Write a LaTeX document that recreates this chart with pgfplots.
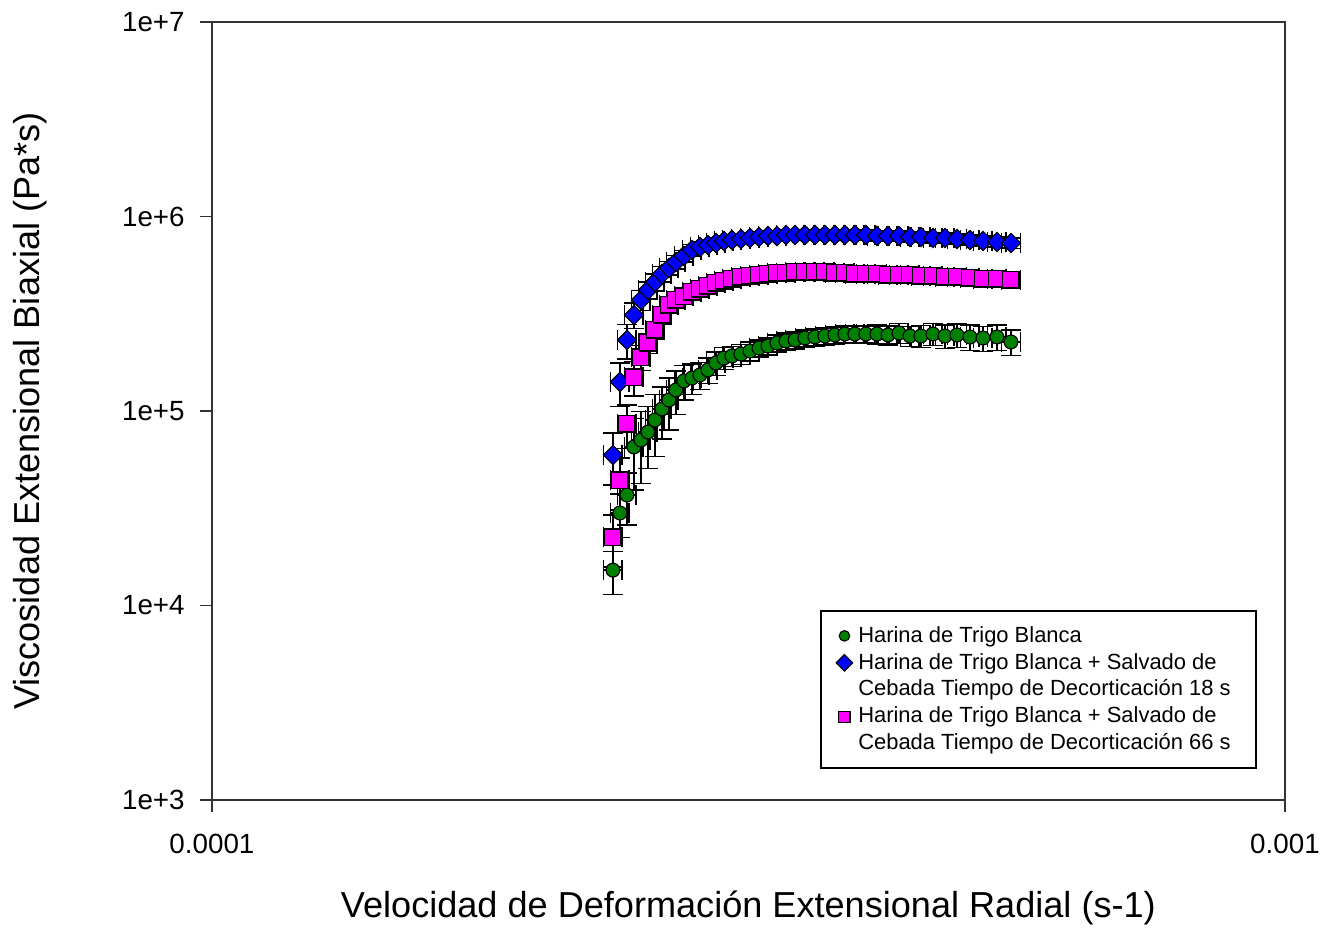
\documentclass[border=0pt]{standalone}
\usepackage{fontspec}
\setmainfont{Liberation Sans}
\usepackage{pgfplots}
\usepackage{pgfplotstable}
\pgfplotsset{compat=1.18}
\definecolor{mgreen}{RGB}{0,128,0}
\definecolor{mblue}{RGB}{0,0,255}
\definecolor{mpink}{RGB}{255,0,255}

\pgfplotstableread{
x y ex ey
2.3644e-4 1.52e4 0.02 0.25
2.4001e-4 2.99e4 0.02 0.25
2.4365e-4 3.70e4 0.02 0.30
2.4733e-4 6.53e4 0.02 0.40
2.5108e-4 7.09e4 0.02 0.40
2.5488e-4 7.80e4 0.02 0.35
2.5874e-4 8.99e4 0.02 0.35
2.6266e-4 1.024e5 0.02 0.30
2.6663e-4 1.139e5 0.02 0.30
2.7067e-4 1.282e5 0.02 0.25
2.7536e-4 1.427e5 0.02 0.20
2.8013e-4 1.478e5 0.02 0.18
2.8497e-4 1.532e5 0.02 0.16
2.8990e-4 1.625e5 0.02 0.15
2.9493e-4 1.766e5 0.02 0.14
3.0003e-4 1.873e5 0.02 0.13
3.0522e-4 1.918e5 0.02 0.12
3.1119e-4 1.964e5 0.02 0.12
3.1725e-4 2.035e5 0.02 0.11
3.2344e-4 2.108e5 0.02 0.10
3.2975e-4 2.159e5 0.02 0.10
3.3617e-4 2.237e5 0.02 0.10
3.4273e-4 2.291e5 0.02 0.10
3.4943e-4 2.317e5 0.02 0.10
3.5699e-4 2.373e5 0.02 0.10
3.6473e-4 2.402e5 0.02 0.10
3.7265e-4 2.430e5 0.02 0.10
3.8073e-4 2.459e5 0.02 0.10
3.8899e-4 2.488e5 0.02 0.10
3.9743e-4 2.488e5 0.02 0.10
4.0692e-4 2.488e5 0.02 0.10
4.1665e-4 2.488e5 0.02 0.11
4.2659e-4 2.459e5 0.02 0.11
4.3679e-4 2.518e5 0.02 0.12
4.4721e-4 2.430e5 0.02 0.12
4.5788e-4 2.430e5 0.02 0.13
4.6983e-4 2.488e5 0.02 0.13
4.8209e-4 2.430e5 0.02 0.14
4.9468e-4 2.459e5 0.02 0.14
5.0867e-4 2.402e5 0.02 0.15
5.2307e-4 2.373e5 0.02 0.15
5.3900e-4 2.402e5 0.02 0.15
5.5547e-4 2.264e5 0.02 0.15
}\green

\pgfplotstableread{
x y ex ey
2.3644e-4 5.94e4 0.02 0.30
2.4001e-4 1.410e5 0.02 0.25
2.4365e-4 2.317e5 0.02 0.20
2.4733e-4 3.116e5 0.02 0.15
2.5108e-4 3.722e5 0.02 0.12
2.5488e-4 4.190e5 0.02 0.10
2.5874e-4 4.605e5 0.02 0.10
2.6266e-4 5.063e5 0.02 0.09
2.6663e-4 5.436e5 0.02 0.08
2.7067e-4 5.836e5 0.02 0.08
2.7536e-4 6.267e5 0.02 0.07
2.8013e-4 6.727e5 0.02 0.07
2.8497e-4 6.970e5 0.02 0.06
2.8990e-4 7.137e5 0.02 0.06
2.9493e-4 7.308e5 0.02 0.06
3.0003e-4 7.482e5 0.02 0.06
3.0522e-4 7.572e5 0.02 0.06
3.1119e-4 7.661e5 0.02 0.06
3.1725e-4 7.754e5 0.02 0.06
3.2344e-4 7.845e5 0.02 0.06
3.2975e-4 7.938e5 0.02 0.06
3.3617e-4 7.938e5 0.02 0.06
3.4273e-4 8.034e5 0.02 0.06
3.4943e-4 8.034e5 0.02 0.06
3.5699e-4 8.034e5 0.02 0.06
3.6473e-4 8.034e5 0.02 0.06
3.7265e-4 8.034e5 0.02 0.06
3.8073e-4 8.034e5 0.02 0.06
3.8899e-4 8.034e5 0.02 0.06
3.9743e-4 8.034e5 0.02 0.06
4.0692e-4 8.034e5 0.02 0.06
4.1665e-4 7.938e5 0.02 0.06
4.2659e-4 7.938e5 0.02 0.06
4.3679e-4 7.938e5 0.02 0.06
4.4721e-4 7.845e5 0.02 0.06
4.5788e-4 7.845e5 0.02 0.06
4.6983e-4 7.754e5 0.02 0.06
4.8209e-4 7.754e5 0.02 0.06
4.9468e-4 7.661e5 0.02 0.06
5.0867e-4 7.572e5 0.02 0.06
5.2307e-4 7.482e5 0.02 0.06
5.3900e-4 7.394e5 0.02 0.06
5.5547e-4 7.308e5 0.02 0.06
}\blue

\pgfplotstableread{
x y ex ey
2.3644e-4 2.250e4 0.02 0.30
2.4001e-4 4.418e4 0.02 0.30
2.4365e-4 8.575e4 0.02 0.25
2.4733e-4 1.495e5 0.02 0.20
2.5108e-4 1.895e5 0.02 0.15
2.5488e-4 2.237e5 0.02 0.12
2.5874e-4 2.609e5 0.02 0.10
2.6266e-4 3.116e5 0.02 0.10
2.6663e-4 3.508e5 0.02 0.09
2.7067e-4 3.722e5 0.02 0.08
2.7536e-4 3.902e5 0.02 0.08
2.8013e-4 4.091e5 0.02 0.07
2.8497e-4 4.239e5 0.02 0.07
2.8990e-4 4.392e5 0.02 0.06
2.9493e-4 4.551e5 0.02 0.06
3.0003e-4 4.661e5 0.02 0.06
3.0522e-4 4.773e5 0.02 0.06
3.1119e-4 4.886e5 0.02 0.06
3.1725e-4 4.945e5 0.02 0.06
3.2344e-4 5.004e5 0.02 0.06
3.2975e-4 5.063e5 0.02 0.06
3.3617e-4 5.123e5 0.02 0.06
3.4273e-4 5.123e5 0.02 0.06
3.4943e-4 5.184e5 0.02 0.06
3.5699e-4 5.184e5 0.02 0.06
3.6473e-4 5.184e5 0.02 0.06
3.7265e-4 5.184e5 0.02 0.06
3.8073e-4 5.123e5 0.02 0.06
3.8899e-4 5.123e5 0.02 0.06
3.9743e-4 5.063e5 0.02 0.06
4.0692e-4 5.063e5 0.02 0.06
4.1665e-4 5.063e5 0.02 0.06
4.2659e-4 5.004e5 0.02 0.06
4.3679e-4 5.004e5 0.02 0.06
4.4721e-4 5.004e5 0.02 0.06
4.5788e-4 4.945e5 0.02 0.06
4.6983e-4 4.945e5 0.02 0.06
4.8209e-4 4.886e5 0.02 0.06
4.9468e-4 4.886e5 0.02 0.06
5.0867e-4 4.829e5 0.02 0.06
5.2307e-4 4.773e5 0.02 0.06
5.3900e-4 4.773e5 0.02 0.06
5.5547e-4 4.716e5 0.02 0.06
}\pink

\pgfplotsset{
  myerr/.style={
    error bars/.cd,
      x dir=both, x explicit relative,
      y dir=both, y explicit relative,
      error bar style={black, line width=0.5pt},
      error mark options={rotate=90, mark size=3.6pt, black, line width=0.5pt},
  },
}

\begin{document}
\begin{tikzpicture}
\begin{axis}[
  name=ax,
  scale only axis,
  width=386.3pt, height=280.1pt,
  xmode=log, ymode=log,
  xmin=1e-4, xmax=1e-3, ymin=1e3, ymax=1e7,
  xtick={1e-4,1e-3}, xticklabels={0.0001,0.001},
  ytick={1e3,1e4,1e5,1e6,1e7},
  yticklabels={1e+3,1e+4,1e+5,1e+6,1e+7},
  minor tick length=0pt,
  xtick pos=bottom, ytick pos=left,
  tick align=outside,
  major tick length=4.3pt,
  tick style={black!80, line width=0.55pt},
  axis line style={black!80, line width=0.55pt},
  ticklabel style={font=\fontsize{10}{12}\selectfont},
  yticklabel style={xshift=-2pt},
  xticklabel style={yshift=-4.5pt},
  xlabel={Velocidad de Deformación Extensional Radial (s-1)},
  ylabel={Viscosidad Extensional Biaxial (Pa*s)},
  label style={font=\fontsize{13}{15.6}\selectfont},
  xlabel style={at={(axis description cs:0.5,-0.1388)}, anchor=center},
  ylabel style={at={(axis description cs:-0.1696,0.5)}, anchor=center},
  clip=false,
  legend cell align=left,
  legend style={
    at={(axis description cs:0.5666,0.0398)}, anchor=south west,
    draw=black, line width=0.6pt,
    font=\fontsize{7.9}{9.7}\selectfont,
    inner xsep=0pt, inner ysep=4pt,
    row sep=0pt,
    nodes={inner ysep=0.6pt, text height=6.5pt, text depth=2pt},
  },
]
\addplot+[only marks, mark=*, mark size=2.5pt,
  mark options={fill=mgreen, draw=black, line width=0.4pt},
  legend image post style={mark size=1.9pt}, myerr]
  table[x=x, y=y, x error=ex, y error=ey] {\green};
\addlegendentry{Harina de Trigo Blanca}
\addplot+[only marks, mark=square*, mark size=2.45pt,
  mark options={fill=mblue, draw=black, line width=0.4pt, rotate=45},
  legend image post style={mark size=2.1pt}, myerr]
  table[x=x, y=y, x error=ex, y error=ey] {\blue};
\addlegendentry{Harina de Trigo Blanca + Salvado de}
\addlegendimage{empty legend}
\addlegendentry{Cebada Tiempo de Decorticación 18 s}
\addplot+[only marks, mark=square*, mark size=2.9pt,
  mark options={fill=mpink, draw=black, line width=0.4pt},
  legend image post style={mark size=2pt}, myerr]
  table[x=x, y=y, x error=ex, y error=ey] {\pink};
\addlegendentry{Harina de Trigo Blanca + Salvado de}
\addlegendimage{empty legend}
\addlegendentry{Cebada Tiempo de Decorticación 66 s\hspace*{7pt}}
\end{axis}
\path ([xshift=-76.32pt,yshift=-46.44pt]ax.south west) rectangle ([xshift=18.36pt,yshift=7.92pt]ax.north east);
\end{tikzpicture}
\end{document}
